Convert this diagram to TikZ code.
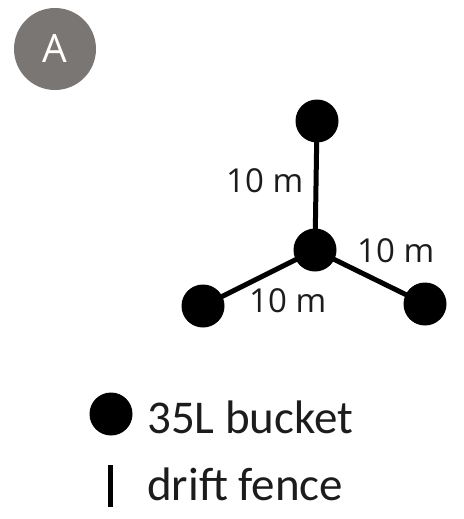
\documentclass[tikz,border=0pt]{standalone}
\usepackage{fontspec}
\setmainfont{Carlito}
\newfontfamily\labelfont{Open Sans}
\definecolor{badgegray}{RGB}{122,118,116}
\definecolor{textgray}{RGB}{28,28,28}

\begin{document}
\begin{tikzpicture}[x=1pt,y=-1pt,
    bucket/.style={circle,fill=black,inner sep=0pt,minimum size=43pt},
    fence/.style={line width=5pt},
    dist/.style={anchor=base west,inner sep=0pt,text=textgray,font=\labelfont\fontsize{33}{33}\selectfont},
    legend/.style={anchor=base west,inner sep=0pt,text=textgray,font=\fontsize{47}{47}\selectfont}]
    \useasboundingbox (0,0) rectangle (463,519);

    % Badge
    \node [circle,fill=badgegray,minimum size=82pt,inner sep=0pt,text=white,font=\labelfont\fontsize{39}{39}\selectfont] (badge) at (55,49) {A};

    % Buckets
    \node [bucket] (c) at (315,250) {};
    \node [bucket] (t) at (317,121) {};
    \node [bucket] (l) at (203,306) {};
    \node [bucket] (r) at (425,304) {};

    % Drift fences
    \draw [fence] (c.center)--(t.center);
    \draw [fence] (c.center)--(l.center);
    \draw [fence] (c.center)--(r.center);

    \node [dist] (dt) at (226,192) {10 m};
    \node [dist] (dr) at (357,262) {10 m};
    \node [dist] (dl) at (249,312) {10 m};

    % Legend
    \node [bucket] (kb) at (111,414) {};
    \node [legend] (kbt) at (147,433) {35L bucket};
    \coordinate (kf1) at (110,465);
    \coordinate (kf2) at (110,507);
    \draw [fence] (kf1)--(kf2);
    \node [legend] (kft) at (147,500) {drift fence};
\end{tikzpicture}
\end{document}
